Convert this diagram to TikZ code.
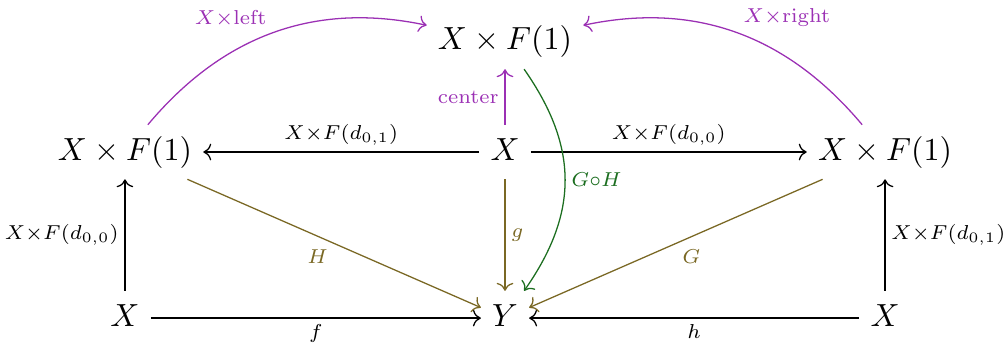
\documentclass[tikz,border=0pt]{standalone}
\usepackage{amsmath,amssymb}
\usepackage{xcolor}
\usetikzlibrary{arrows.meta,
positioning}

\definecolor{mapviolet}{RGB}{155,48,180}
\definecolor{mapolive}{RGB}{122,104,36}
\definecolor{mapgreen}{RGB}{28,110,32}

\newcommand{\maplab}[1]{\scalebox{0.9}{#1}}

\begin{document}
\begin{tikzpicture}[
    >={Computer Modern Rightarrow},
    node distance=51.9pt and 118.75pt,
    on grid,
    obj/.style={
        text height=7.5pt,
        text depth=2.5pt
    },
    map/.style={
        ->
    },
    lab/.style={
        font=\scriptsize,
        inner sep=1.8pt
    }
]

\useasboundingbox (-157.8pt,-61.6pt) rectangle (155.6pt,47.5pt);

%-------------------------------------------------
% Objects
%-------------------------------------------------

\node[obj] (X) {$X$};
\node[obj,left=of X] (PL) {$X\times F(1)$};
\node[obj,right=of X] (PR) {$X\times F(1)$};
\node[obj,above=34.4pt of X] (PT) {$X\times F(1)$};
\node[obj,below=of X] (Y) {$Y$};
\node[obj,below=of PL] (XL) {$X$};
\node[obj,below=of PR] (XR) {$X$};

%-------------------------------------------------
% Square maps
%-------------------------------------------------

\draw[map] (X)--node[lab,above]{\maplab{$X{\times}F(d_{0,1})$}}(PL);
\draw[map] (X)--node[lab,above]{\maplab{$X{\times}F(d_{0,0})$}}(PR);
\draw[map] (XL)--node[lab,left]{\maplab{$X{\times}F(d_{0,0})$}}(PL);
\draw[map] (XR)--node[lab,right]{\maplab{$X{\times}F(d_{0,1})$}}(PR);
\draw[map] (XL)--node[lab,below]{\maplab{$f$}}(Y);
\draw[map] (XR)--node[lab,below]{\maplab{$h$}}(Y);

%-------------------------------------------------
% Maps into Y
%-------------------------------------------------

\draw[map,mapolive] (X)--node[lab,right]{\maplab{$g$}}(Y);
\draw[map,mapolive] (PL)--node[lab,below left]{\maplab{$H$}}(Y);
\draw[map,mapolive] (PR)--node[lab,below right]{\maplab{$G$}}(Y);

\draw[map,mapgreen] (PT) to[out=-55,in=55,looseness=1.1]
    node[lab,right]{\maplab{$G{\circ}H$}} (Y);

%-------------------------------------------------
% Maps into the top object
%-------------------------------------------------

\draw[map,mapviolet] (X)--node[lab,left]{\maplab{center}}(PT);
\draw[map,mapviolet] (PL) to[out=50,in=168]
    node[lab,above left]{\maplab{$X{\times}\mathrm{left}$}} (PT);
\draw[map,mapviolet] (PR) to[out=130,in=12]
    node[lab,above right]{\maplab{$X{\times}\mathrm{right}$}} (PT);

\end{tikzpicture}
\end{document}
